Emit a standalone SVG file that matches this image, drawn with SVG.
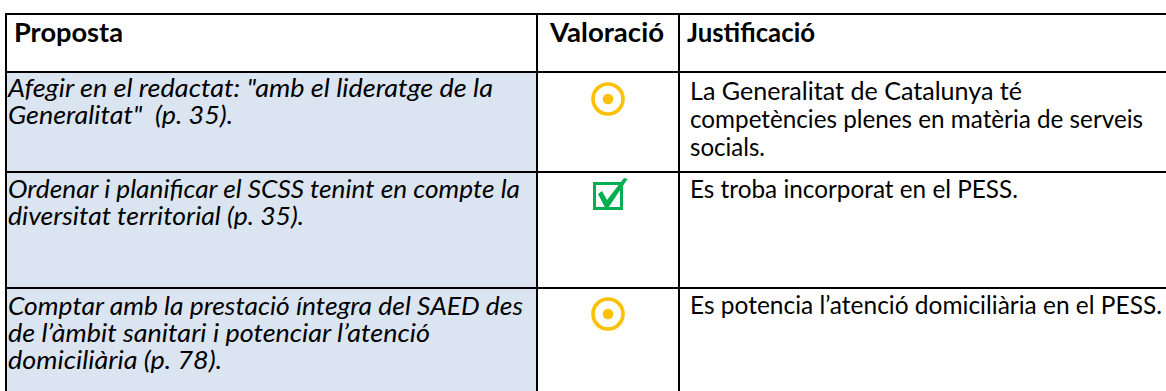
<svg xmlns="http://www.w3.org/2000/svg" width="1166" height="391" viewBox="0 0 1166 391">
<style>
.t{font-family:Lato,"Open Sans","Liberation Sans",sans-serif;font-size:25px;fill:#000}
.h{font-weight:bold;font-size:26px}
.i{font-style:italic}
.ln{stroke:#000;stroke-width:2;fill:none}
.tgt{fill:none;stroke:#FFC000;stroke-width:3.6}
.dot{fill:#FFC000}
</style>
<rect width="1166" height="391" fill="#fff"/>
<g id="fills">
<rect x="7" y="73" width="529" height="318" fill="#DBE5F1"/>
</g>
<g id="grid">
<line class="ln" x1="6" y1="14" x2="1166" y2="14"/>
<line class="ln" x1="6" y1="72" x2="1166" y2="72"/>
<line class="ln" x1="6" y1="172" x2="1166" y2="172"/>
<line class="ln" x1="6" y1="288" x2="1166" y2="288"/>
<line class="ln" x1="6" y1="13" x2="6" y2="391"/>
<line class="ln" x1="537" y1="13" x2="537" y2="391"/>
<line class="ln" x1="679" y1="13" x2="679" y2="391"/>
</g>
<g id="header">
<text class="t h" x="14" y="42" textLength="109" lengthAdjust="spacingAndGlyphs">Proposta</text>
<text class="t h" x="550" y="42" textLength="114" lengthAdjust="spacingAndGlyphs">Valoració</text>
<text class="t h" x="687" y="42" textLength="128" lengthAdjust="spacingAndGlyphs">Justificació</text>
</g>
<g id="row1">
<text class="t i" x="8" y="97" textLength="485" lengthAdjust="spacingAndGlyphs">Afegir en el redactat: "amb el lideratge de la</text>
<text class="t i" x="8" y="124" textLength="225" lengthAdjust="spacingAndGlyphs">Generalitat"&#160; (p. 35).</text>
<circle class="tgt" cx="608" cy="99" r="15"/>
<circle class="dot" cx="608" cy="99" r="5.3"/>
<text class="t" x="690" y="100" textLength="332" lengthAdjust="spacingAndGlyphs">La Generalitat de Catalunya té</text>
<text class="t" x="690" y="128" textLength="453" lengthAdjust="spacingAndGlyphs">competències plenes en matèria de serveis</text>
<text class="t" x="690" y="156" textLength="75" lengthAdjust="spacingAndGlyphs">socials.</text>
</g>
<g id="row2">
<text class="t i" x="8" y="198" textLength="512" lengthAdjust="spacingAndGlyphs">Ordenar i planificar el SCSS tenint en compte la</text>
<text class="t i" x="8" y="225" textLength="296" lengthAdjust="spacingAndGlyphs">diversitat territorial (p. 35).</text>
<rect x="594.5" y="183.5" width="27" height="25" fill="none" stroke="#00B050" stroke-width="3"/>
<polygon points="598,194 602,191 607,200 624,178 627.5,179 608.5,207.5 605,207.5" fill="#00B050"/>
<text class="t" x="690" y="198" textLength="328" lengthAdjust="spacingAndGlyphs">Es troba incorporat en el PESS.</text>
</g>
<g id="row3">
<text class="t i" x="8" y="315" textLength="515" lengthAdjust="spacingAndGlyphs">Comptar amb la prestació íntegra del SAED des</text>
<text class="t i" x="8" y="342" textLength="422" lengthAdjust="spacingAndGlyphs">de l’àmbit sanitari i potenciar l’atenció</text>
<text class="t i" x="8" y="369" textLength="214" lengthAdjust="spacingAndGlyphs">domiciliària (p. 78).</text>
<circle class="tgt" cx="608" cy="314" r="15"/>
<circle class="dot" cx="608" cy="314" r="5.3"/>
<text class="t" x="690" y="314" textLength="472" lengthAdjust="spacingAndGlyphs">Es potencia l’atenció domiciliària en el PESS.</text>
</g>
</svg>
